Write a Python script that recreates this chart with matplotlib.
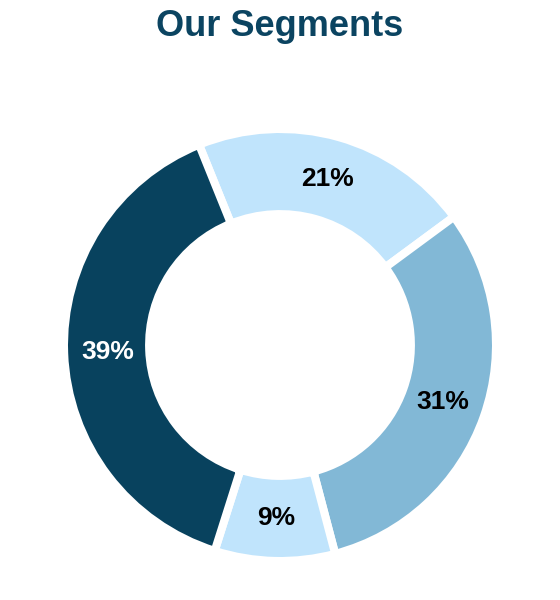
import matplotlib
matplotlib.use('Agg')
import matplotlib.pyplot as plt

plt.rcParams['font.family'] = ['Liberation Sans', 'DejaVu Sans']

segments = ['Segment A', 'Segment B', 'Segment C', 'Segment D']
shares = [21, 31, 9, 39]
colors = ['#c0e4fc', '#82b8d6', '#c0e4fc', '#08425e']
label_colors = ['black', 'black', 'black', 'white']

fig = plt.figure(figsize=(5.6, 6), dpi=100)
# axes sized so the ring radius is ~216 px, centred at (280, 345)
ax = fig.add_axes([0.5 - 216 / 560, 0.425 - 216 / 600, 432 / 560, 432 / 600])

wedges, texts, autotexts = ax.pie(
    shares, colors=colors, startangle=112, counterclock=False,
    autopct='%d%%', pctdistance=0.8,
    wedgeprops=dict(width=0.394, edgecolor='white', linewidth=5.8),
    textprops=dict(fontsize=19, fontweight='bold'))
for t, c in zip(autotexts, label_colors):
    t.set_color(c)

ax.set_xlim(-1, 1)
ax.set_ylim(-1, 1)
ax.set_aspect('equal')
ax.axis('off')

fig.text(0.5, 1 - 26 / 600, 'Our Segments', ha='center', va='center',
         fontsize=26, fontweight='bold', color='#0b4461')

fig.savefig('out.png', dpi=100, facecolor='white')
